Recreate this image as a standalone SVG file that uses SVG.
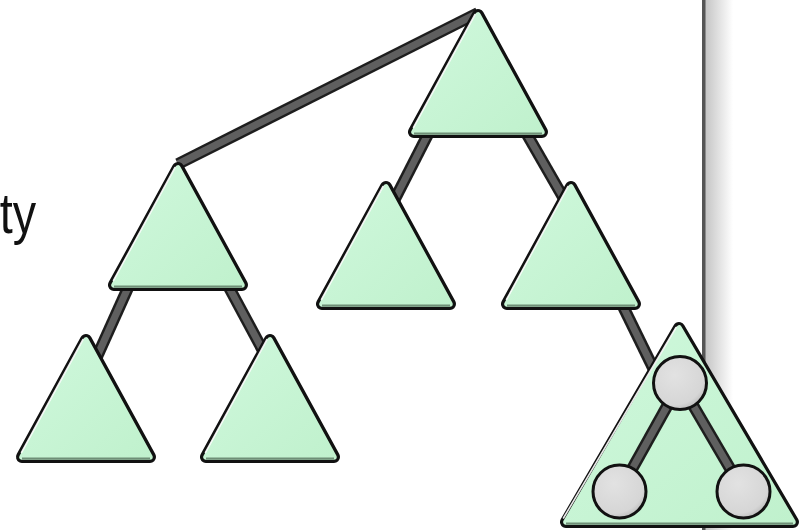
<svg xmlns="http://www.w3.org/2000/svg" xmlns:xlink="http://www.w3.org/1999/xlink" width="801" height="530" viewBox="0 0 801 530">
<defs>
<style>
.tri-out{fill:#111;stroke:#111;stroke-width:12;stroke-linejoin:round}
.tri-in{fill:url(#green);stroke:url(#green);stroke-width:5.5;stroke-linejoin:round}
.hl{fill:none;stroke:#fff;stroke-width:1.6;stroke-linecap:round;opacity:0.9}
.sh{fill:none;stroke:#6f8f77;stroke-width:2}
.edge-o{fill:none;stroke:#1e1e1e;stroke-width:12;stroke-linecap:butt}
.edge-i{fill:none;stroke:#5f5f5f;stroke-width:7;stroke-linecap:butt}
.circ{fill:url(#grey);stroke:#111;stroke-width:3}
.lbl{font-family:"Liberation Sans",Arial,sans-serif;font-size:57px;fill:#111}
</style>
<linearGradient id="green" x1="0" y1="0" x2="1" y2="1">
<stop offset="0" stop-color="#cff8dc"/>
<stop offset="1" stop-color="#c0f1cd"/>
</linearGradient>
<radialGradient id="grey" cx="0.4" cy="0.35" r="0.7">
<stop offset="0" stop-color="#e2e2e2"/>
<stop offset="0.8" stop-color="#d6d6d6"/>
<stop offset="1" stop-color="#b8b8b8"/>
</radialGradient>
<linearGradient id="wallshadow" x1="0" y1="0" x2="1" y2="0">
<stop offset="0" stop-color="#c4c4c4"/>
<stop offset="1" stop-color="#ffffff"/>
</linearGradient>
<symbol id="tri" overflow="visible">
<polygon class="tri-out" points="0,6 -64,123 64,123"/>
<polygon class="tri-in" points="0,6 -64,123 64,123"/>
<line class="sh" x1="-64" y1="124.5" x2="64" y2="124.5"/>
<line class="hl" x1="-3" y1="5.5" x2="-64.5" y2="118.5"/>
</symbol>
</defs>
<rect width="801" height="530" fill="#fff"/>
<g id="wall">
<rect x="705" y="0" width="28" height="530" fill="url(#wallshadow)"/>
<rect x="702" y="0" width="3.5" height="530" fill="#555"/>
</g>
<text class="lbl" x="44" y="233" text-anchor="end" transform="scale(0.82,1)">ty</text>
<g id="connectors">
<line class="edge-o" x1="478" y1="13" x2="178" y2="164"/>
<line class="edge-i" x1="478" y1="13" x2="178" y2="164"/>
<line class="edge-o" x1="432.7" y1="125" x2="394.4" y2="200"/>
<line class="edge-i" x1="432.7" y1="125" x2="394.4" y2="200"/>
<line class="edge-o" x1="521.6" y1="125" x2="567.6" y2="205"/>
<line class="edge-i" x1="521.6" y1="125" x2="567.6" y2="205"/>
<line class="edge-o" x1="131.5" y1="280" x2="95.5" y2="360"/>
<line class="edge-i" x1="131.5" y1="280" x2="95.5" y2="360"/>
<line class="edge-o" x1="225" y1="280" x2="268" y2="360"/>
<line class="edge-i" x1="225" y1="280" x2="268" y2="360"/>
<line class="edge-o" x1="615" y1="290" x2="659" y2="380"/>
<line class="edge-i" x1="615" y1="290" x2="659" y2="380"/>
</g>
<g id="n0"><use xlink:href="#tri" transform="translate(478,9)"/></g>
<g id="n1"><use xlink:href="#tri" transform="translate(178,162)"/></g>
<g id="n2"><use xlink:href="#tri" transform="translate(386,181)"/></g>
<g id="n3"><use xlink:href="#tri" transform="translate(571,181)"/></g>
<g id="n4"><use xlink:href="#tri" transform="translate(86,334)"/></g>
<g id="n5"><use xlink:href="#tri" transform="translate(270,334)"/></g>
<g id="n6">
<polygon class="tri-out" points="679,328 566,522 793,522"/>
<polygon class="tri-in" points="679,328 566,522 793,522"/>
<line class="sh" x1="566" y1="523.5" x2="793" y2="523.5"/>
<line class="hl" x1="676" y1="327.5" x2="563.5" y2="518"/>
<line class="edge-o" x1="680" y1="383" x2="619.5" y2="491.5"/>
<line class="edge-i" x1="680" y1="383" x2="619.5" y2="491.5"/>
<line class="edge-o" x1="680" y1="383" x2="743.5" y2="491.5"/>
<line class="edge-i" x1="680" y1="383" x2="743.5" y2="491.5"/>
<circle class="circ" cx="680" cy="383" r="26.5"/>
<circle class="circ" cx="619.5" cy="491.5" r="26.5"/>
<circle class="circ" cx="743.5" cy="491.5" r="26.5"/>
</g>
</svg>
